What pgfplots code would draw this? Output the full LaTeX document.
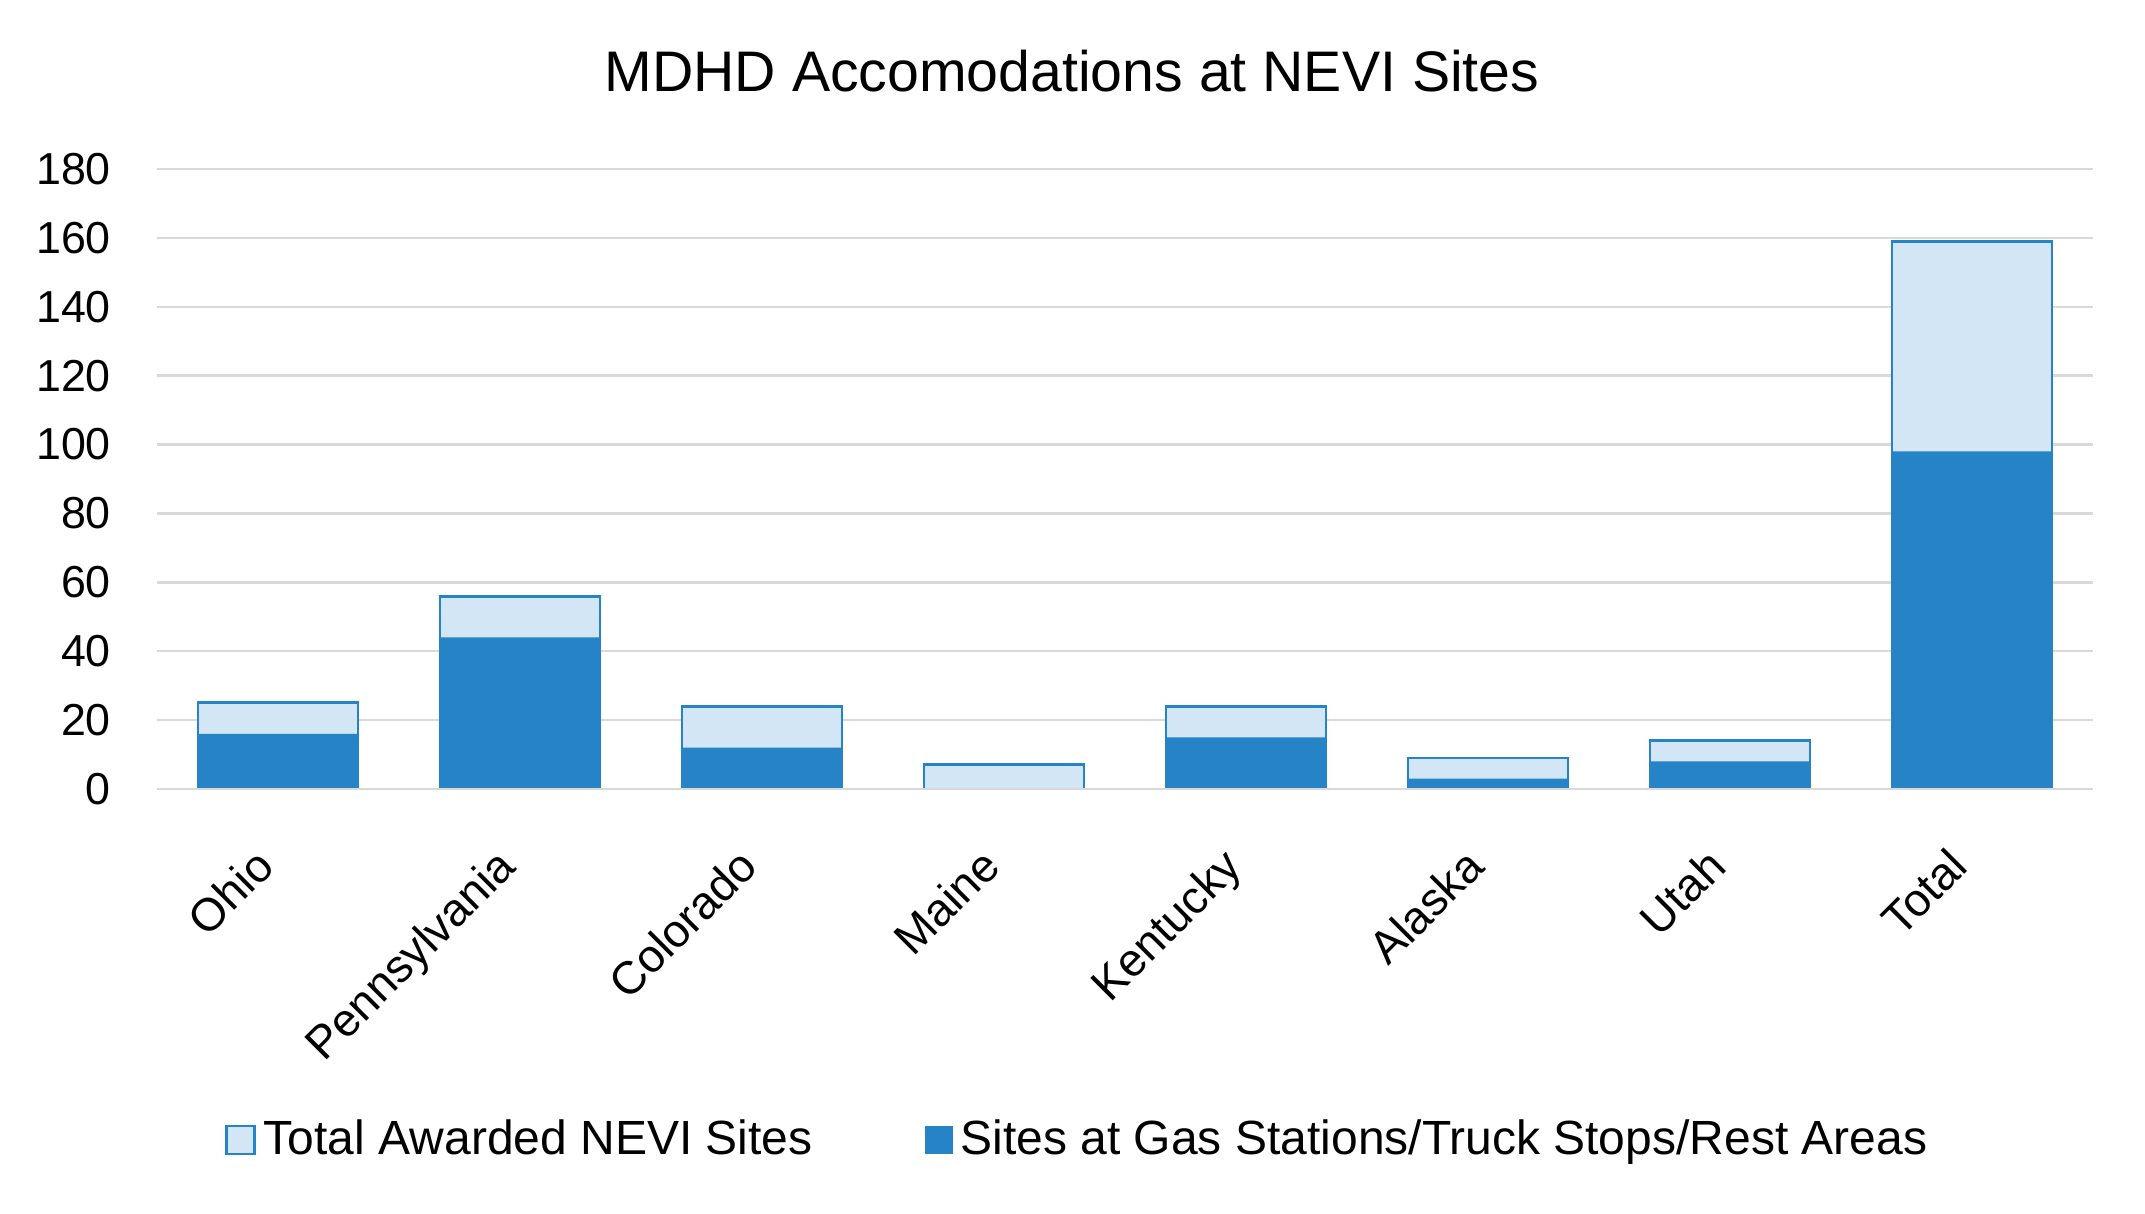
\documentclass[border=0pt]{standalone}
\usepackage{fontspec}
\setmainfont{Liberation Sans}
\usepackage{pgfplots}
\pgfplotsset{compat=1.18}
\definecolor{darkb}{HTML}{2683C6}
\definecolor{lightb}{HTML}{D2E6F5}
\definecolor{gridc}{HTML}{D9D9D9}
\begin{document}
\begin{tikzpicture}
\useasboundingbox (0,0) rectangle (536.25pt,303.25pt);
\node[font=\fontsize{14.3}{16}\selectfont, anchor=center] at (268pt,285.5pt) {MDHD Accomodations at NEVI Sites};
\begin{axis}[
  at={(39.25pt,106pt)}, anchor=south west,
  scale only axis, width=484pt, height=155pt,
  xmin=-0.5, xmax=7.5, ymin=0, ymax=180,
  ytick={0,20,...,180},
  xtick={0,...,7},
  xticklabels={Ohio,Pennsylvania,Colorado,Maine,Kentucky,Alaska,Utah,Total},
  axis line style={draw=none},
  major tick length=0pt,
  ymajorgrids, grid style={gridc, line width=0.6pt},
  /pgf/number format/assume math mode=true,
  yticklabel style={font=\fontsize{11.2}{13}\selectfont, text=black, xshift=-8pt},
  xticklabel style={font=\fontsize{11.5}{13}\selectfont, text=black, rotate=45, anchor=north east, yshift=-2pt, xshift=-11pt},
  bar width=40pt,
  legend columns=2,
  legend style={draw=none, at={(0.4768,-0.566)}, anchor=center,
    font=\fontsize{12}{14}\selectfont, /tikz/every even column/.append style={column sep=26pt}},
  legend image code/.code={\path[#1] (0pt,-3.5pt) rectangle (7pt,3.5pt);},
]
\addplot[ybar, fill=lightb, draw=darkb, line width=0.7pt] coordinates {(0,25) (1,56) (2,24) (3,7) (4,24) (5,9) (6,14) (7,159)};
\addlegendentry{Total Awarded NEVI Sites}
\addplot[ybar, fill=darkb, draw=none] coordinates {(0,16) (1,44) (2,12) (3,0) (4,15) (5,3) (6,8) (7,98)};
\addlegendentry{Sites at Gas Stations/Truck Stops/Rest Areas}
\draw[gridc, line width=0.6pt] (axis cs:-0.5,0) -- (axis cs:7.5,0);
\end{axis}
\end{tikzpicture}
\end{document}
